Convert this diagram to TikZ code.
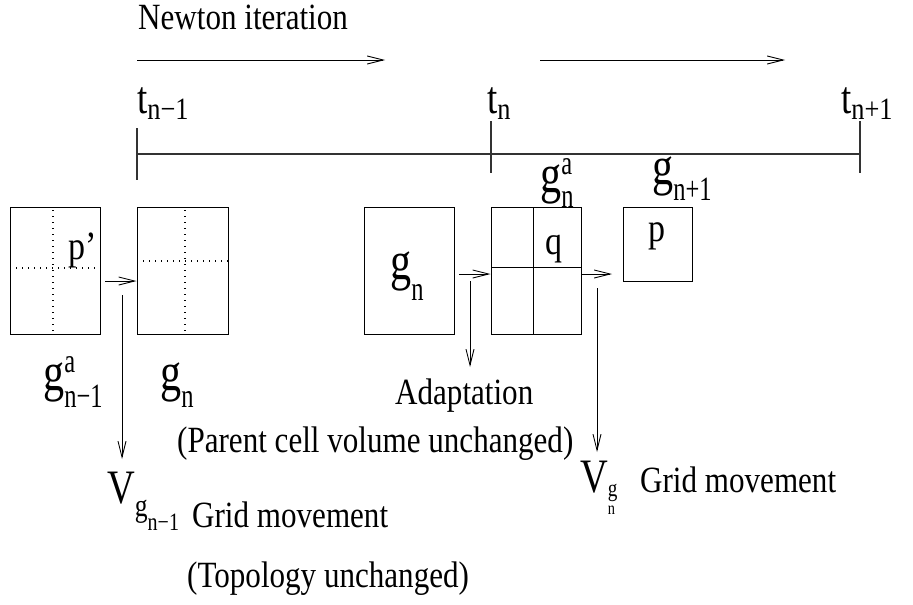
\documentclass[tikz,border=0pt]{standalone}
\usepackage{fontspec}
\usepackage{graphicx}
\setmainfont{Liberation Serif}
\usetikzlibrary{arrows.meta}
% #1 horizontal factor, #2 size, #3 text
\newcommand\SX[3]{\scalebox{#1}[1]{\fontsize{#2}{#2}\selectfont #3}}
\newcommand\TX[1]{\SX{0.84}{37}{#1}}
\newcommand\TT[1]{\SX{0.8}{46}{t}\raisebox{-6pt}{\SX{0.85}{31}{#1}}}
\newcommand\GG{\SX{0.78}{54}{g}}
\newcommand\GS[1]{\SX{0.72}{34}{#1}}
\newcommand\CL[1]{\SX{0.85}{40}{#1}}
\begin{document}
\begin{tikzpicture}[x=1pt,y=-1pt,
  box/.style={draw,line width=1pt,inner sep=0pt},
  lab/.style={anchor=base west,inner sep=0pt},
  arr/.style={line width=0.9pt,-{Straight Barb[length=16pt,width=8pt]}},
  dots/.style={line width=1.1pt,dash pattern=on 1.1pt off 4.9pt},
  tl/.style={line width=1.1pt,draw=black!80}]
\useasboundingbox (0,0) rectangle (913,605);

% Newton iteration
\node[lab] (newton) at (138,29) {\TX{Newton iteration}};
\coordinate (na1) at (137,60); \coordinate (na2) at (385,60);
\coordinate (nb1) at (540,60); \coordinate (nb2) at (785,60);
\draw[arr] (na1) -- (na2);
\draw[arr] (nb1) -- (nb2);

% time labels
\node[lab] (t1) at (137,113) {\TT{n−1}};
\node[lab] (t2) at (487,113) {\TT{n}};
\node[lab] (t3) at (841,113) {\TT{n+1}};

% timeline
\coordinate (T1) at (137,154); \coordinate (T2) at (491,154); \coordinate (T3) at (860,154);
\draw[tl] (T1) -- (T3);
\draw[tl] (137,128) -- (137,180);
\draw[tl] (491,121) -- (491,173);
\draw[tl] (860,121) -- (860,173);

% boxes
\node[box,minimum width=90pt,minimum height=127pt] (A) at (55,270.5) {};
\node[box,minimum width=91pt,minimum height=127pt] (B) at (182.5,270.5) {};
\node[box,minimum width=90pt,minimum height=127pt] (C) at (409,270.5) {};
\node[box,minimum width=90pt,minimum height=127pt] (D) at (536,270.5) {};
\node[box,minimum width=69pt,minimum height=74pt] (E) at (657.5,244) {};

\draw[dots] (53,210) -- (53,334);
\draw[dots] (10,268) -- (100,268);
\draw[dots] (185,210) -- (185,334);
\draw[dots] (137,261) -- (228,261);
\draw[line width=1pt] (533,207) -- (533,334);
\draw[line width=1pt] (491,267) -- (581,267);

% box texts
\node[lab] (pp) at (68,259) {\CL{p’}};
\node[lab] (q) at (545,254) {\CL{q}};
\node[lab] (p) at (648,241) {\CL{p}};
\node[lab] (gnin) at (390,279) {\GG\raisebox{-21pt}{\GS{n}}};

% grid labels
\node[lab] (ganm) at (43,390) {\GG\rlap{\raisebox{18pt}{\GS{a}}}\raisebox{-17pt}{\GS{n−1}}};
\node[lab] (gn) at (160,390) {\GG\raisebox{-17pt}{\GS{n}}};
\node[lab] (gan) at (540,192) {\GG\rlap{\raisebox{18pt}{\GS{a}}}\raisebox{-15pt}{\GS{n}}};
\node[lab] (gnp) at (652,184) {\GG\raisebox{-16pt}{\GS{n+1}}};

% arrows between boxes
\coordinate (a1) at (105,281);
\draw[arr] (a1) -- (B.west |- a1);
\coordinate (a2) at (459,274);
\draw[arr] (a2) -- (D.west |- a2);
\coordinate (a3) at (D.east |- a2);
\coordinate (a3e) at (612,274);
\draw[arr] (a3) -- (a3e);

% vertical arrows
\coordinate (v1s) at (122,295); \coordinate (v1e) at (122,459);
\draw[arr] (v1s) -- (v1e);
\coordinate (v2s) at (470,281); \coordinate (v2e) at (470,367);
\draw[arr] (v2s) -- (v2e);
\coordinate (v3s) at (597,288); \coordinate (v3e) at (597,452);
\draw[arr] (v3s) -- (v3e);

% captions
\node[lab] (adapt) at (395,404) {\TX{Adaptation}};
\node[lab] (parent) at (177,452) {\TX{(Parent cell volume unchanged)}};
\node[lab] (V1) at (107,503) {\SX{0.8}{48}{V}\raisebox{-13pt}{\SX{0.8}{32}{g}}\raisebox{-27pt}{\SX{0.8}{25}{n−1}}};
\node[lab] (grid1) at (192,527) {\TX{Grid movement}};
\node[lab] (topo) at (187,587) {\TX{(Topology unchanged)}};
\node[lab] (V2) at (580,492) {\SX{0.8}{48}{V}\rlap{\raisebox{-22pt}{\SX{0.8}{18}{n}}}\raisebox{-4pt}{\SX{0.8}{24}{g}}};
\node[lab] (grid2) at (640,492) {\TX{Grid movement}};
\end{tikzpicture}
\end{document}
